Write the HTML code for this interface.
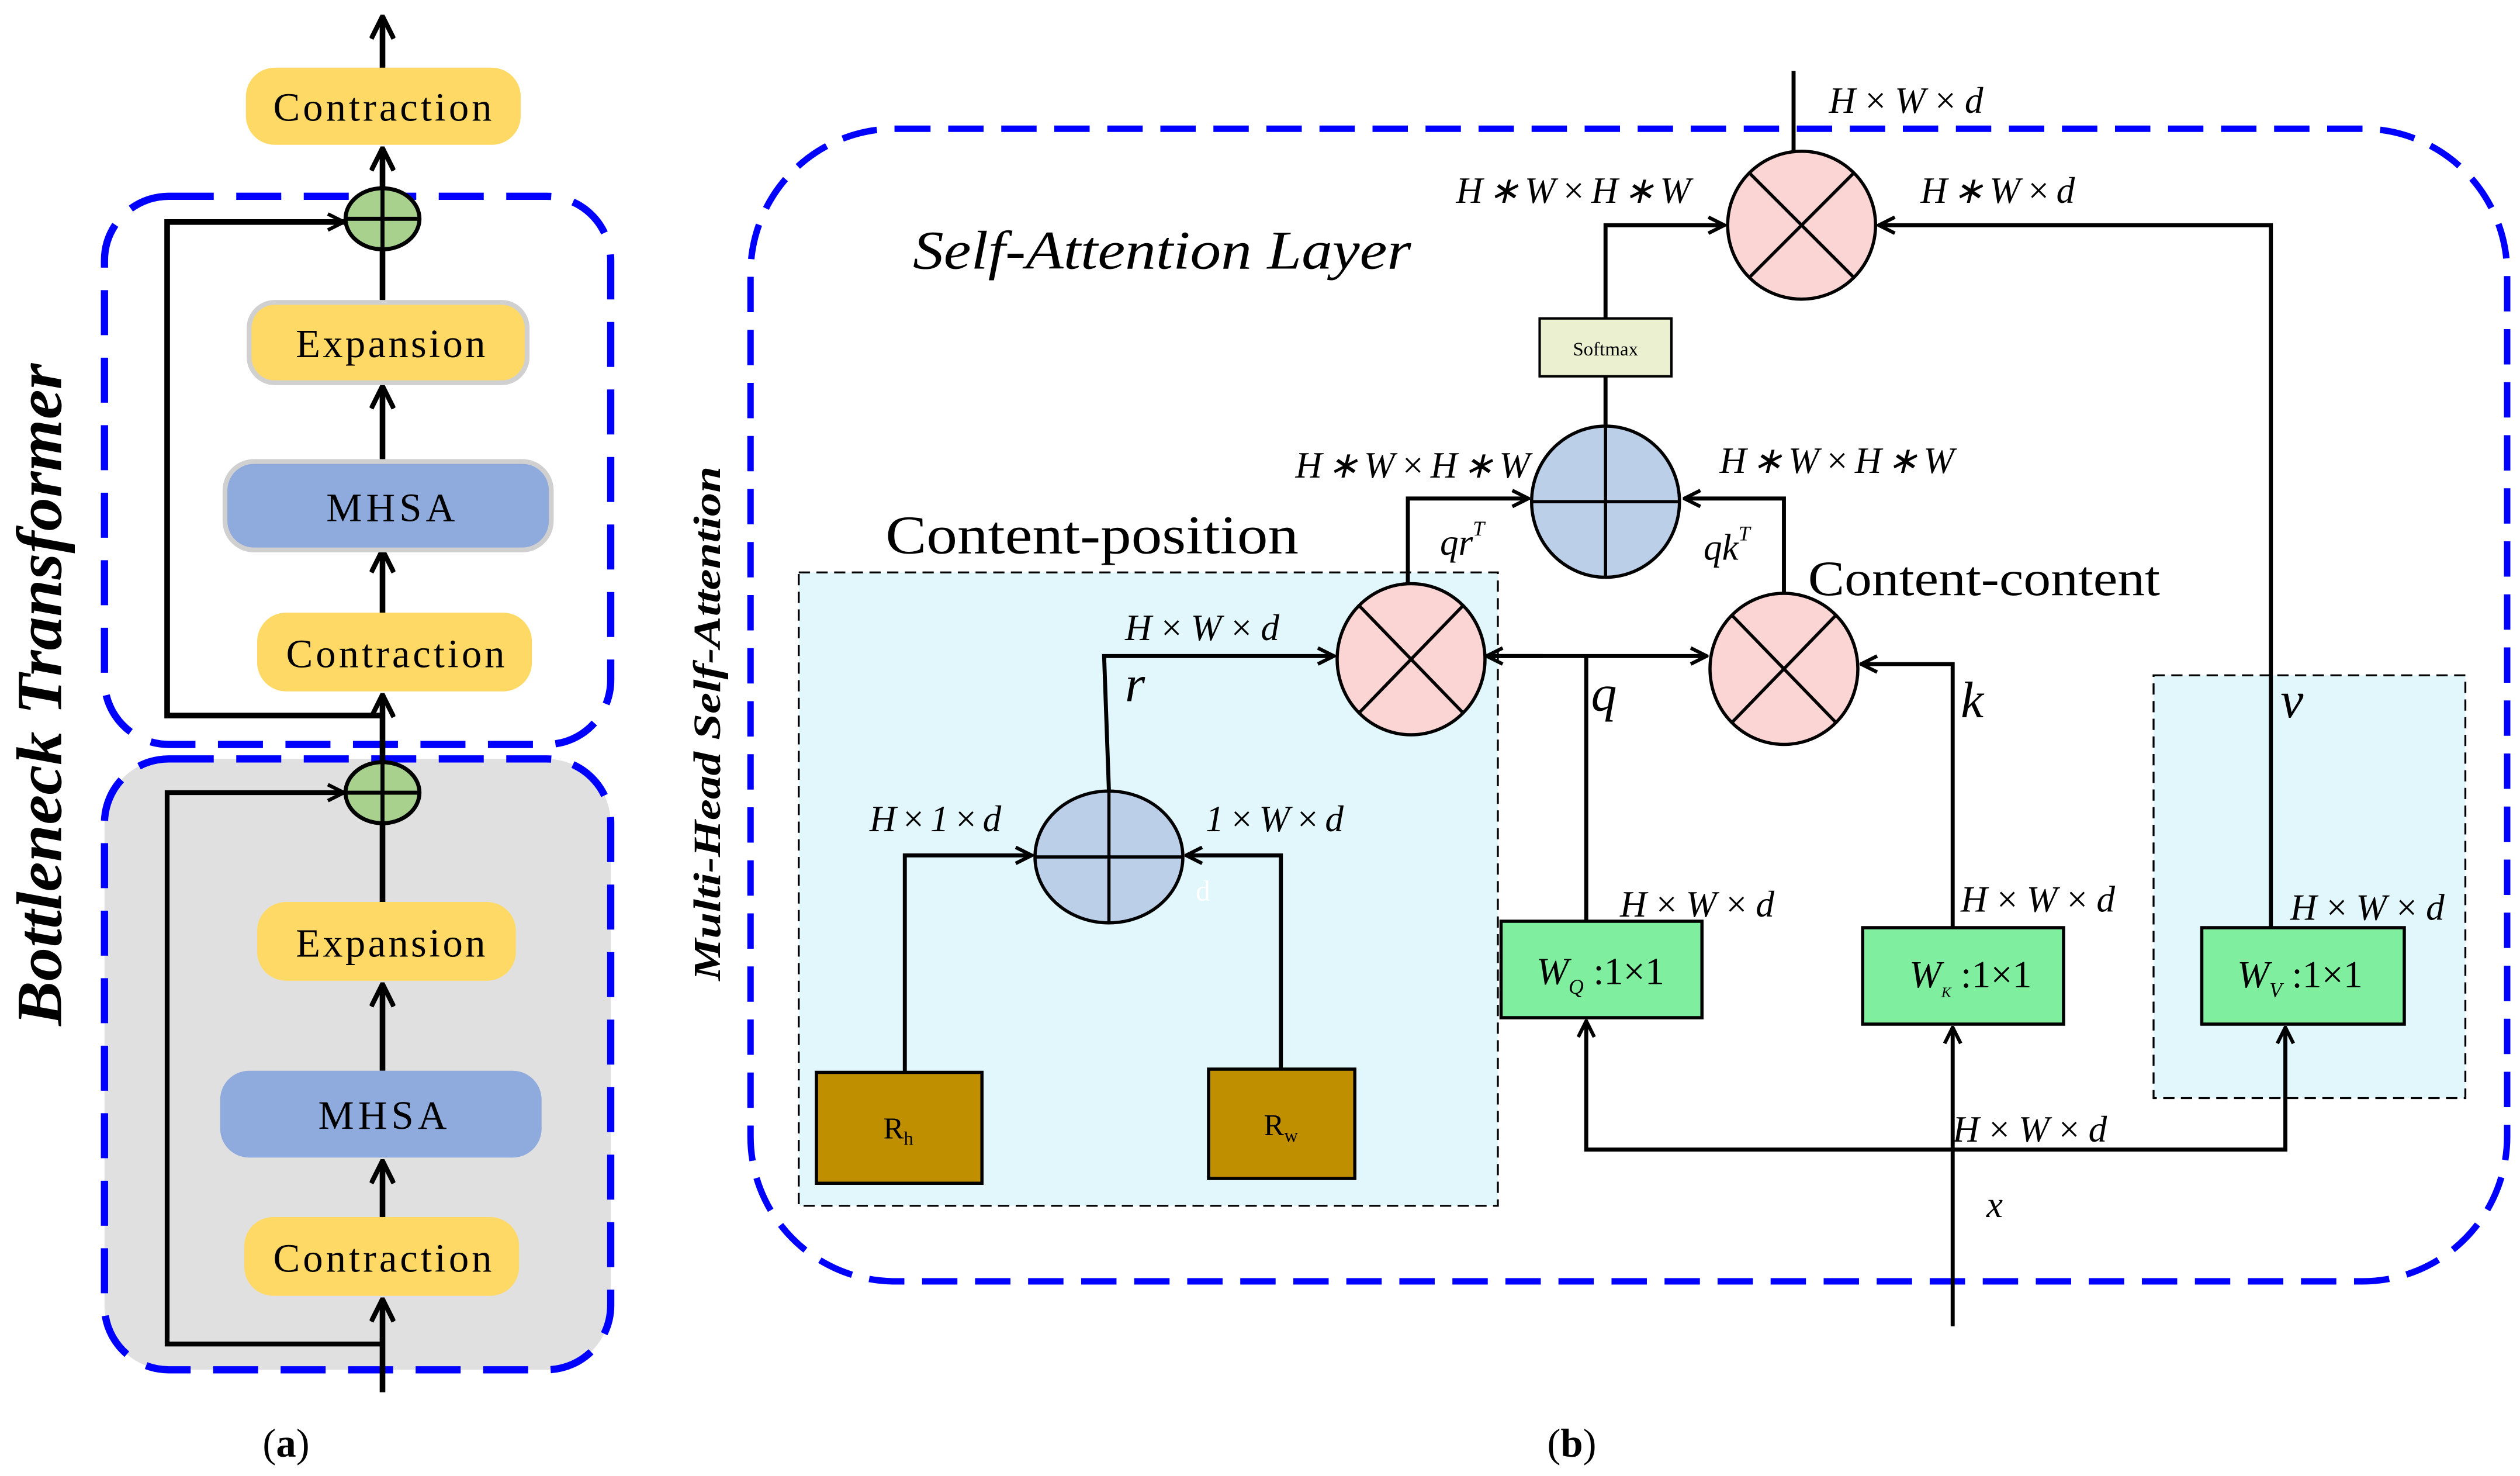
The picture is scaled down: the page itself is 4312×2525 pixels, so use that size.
<!DOCTYPE html>
<html><head><style>html,body{margin:0;padding:0;background:#fff}svg{display:block}</style></head>
<body>
<svg width="4312" height="2525" viewBox="0 0 1568 918" xmlns="http://www.w3.org/2000/svg" font-family="Liberation Serif, serif">
<defs>
<marker id="a" viewBox="0 0 12 12" refX="11" refY="6" markerWidth="12" markerHeight="12" markerUnits="userSpaceOnUse" orient="auto"><path d="M1,1 L11,6 L1,11" fill="none" stroke="#000" stroke-width="2.2"/></marker>
<marker id="b" viewBox="0 0 16 16" refX="15" refY="8" markerWidth="16" markerHeight="16" markerUnits="userSpaceOnUse" orient="auto"><path d="M1,1 L15,8 L1,15" fill="none" stroke="#000" stroke-width="3"/></marker>
</defs>
<!-- LEFT PANEL -->
<rect x="65" y="472" width="315" height="380" rx="40" fill="#E0E0E0"/>
<rect x="65" y="472" width="315" height="380" rx="40" fill="none" stroke="#0000FF" stroke-width="4.5" stroke-dasharray="28,14"/>
<rect x="65" y="122" width="315" height="341" rx="40" fill="none" stroke="#0000FF" stroke-width="4.5" stroke-dasharray="28,14"/>
<g stroke="#000" stroke-width="3.5" fill="none">
<line x1="238" y1="45" x2="238" y2="10" marker-end="url(#b)"/>
<line x1="238" y1="188" x2="238" y2="92" marker-end="url(#b)"/>
<line x1="238" y1="287" x2="238" y2="240" marker-end="url(#b)"/>
<line x1="238" y1="381" x2="238" y2="342" marker-end="url(#b)"/>
<line x1="238" y1="561" x2="238" y2="432" marker-end="url(#b)"/>
<line x1="238" y1="666" x2="238" y2="612" marker-end="url(#b)"/>
<line x1="238" y1="757" x2="238" y2="722" marker-end="url(#b)"/>
<line x1="238" y1="866" x2="238" y2="808" marker-end="url(#b)"/>
<polyline points="238,445 104,445 104,138 214,138" marker-end="url(#a)"/>
<polyline points="238,836 104,836 104,493 214,493" stroke-width="3" marker-end="url(#a)"/>
</g>
<g stroke="#000" stroke-width="2.5">
<ellipse cx="238" cy="136" rx="23" ry="19" fill="#A9D18E"/>
<line x1="215" y1="136" x2="261" y2="136"/><line x1="238" y1="117" x2="238" y2="155"/>
<ellipse cx="238" cy="493" rx="23" ry="19" fill="#A9D18E"/>
<line x1="215" y1="493" x2="261" y2="493"/><line x1="238" y1="474" x2="238" y2="512"/>
</g>
<g font-size="25" text-anchor="middle" lengthAdjust="spacingAndGlyphs">
<rect x="153" y="42" width="171" height="48" rx="18" fill="#FFD966"/><text x="238" y="75" textLength="136">Contraction</text>
<rect x="155" y="188" width="173" height="50" rx="16" fill="#FFD966" stroke="#D0D0D0" stroke-width="3"/><text x="243" y="222" textLength="118">Expansion</text>
<rect x="140" y="287" width="203" height="55" rx="18" fill="#8FAADC" stroke="#D0D0D0" stroke-width="3"/><text x="243" y="324" textLength="80">MHSA</text>
<rect x="160" y="381" width="171" height="49" rx="18" fill="#FFD966"/><text x="246" y="415" textLength="136">Contraction</text>
<rect x="160" y="561" width="161" height="49" rx="18" fill="#FFD966"/><text x="243" y="595" textLength="118">Expansion</text>
<rect x="137" y="666" width="200" height="54" rx="18" fill="#8FAADC"/><text x="238" y="702" textLength="80">MHSA</text>
<rect x="152" y="757" width="171" height="49" rx="18" fill="#FFD966"/><text x="238" y="791" textLength="136">Contraction</text>
</g>
<text x="178" y="906" font-size="25" text-anchor="middle">(<tspan font-weight="bold">a</tspan>)</text>
<text transform="translate(38,432) rotate(-90)" font-size="40" font-weight="bold" font-style="italic" text-anchor="middle" textLength="412" lengthAdjust="spacingAndGlyphs">Bottleneck Transformer</text>
<text transform="translate(448,450) rotate(-90)" font-size="24" font-weight="bold" font-style="italic" text-anchor="middle" textLength="320" lengthAdjust="spacingAndGlyphs">Multi-Head Self-Attention</text>
<!-- RIGHT PANEL -->
<rect x="467" y="80" width="1093" height="717" rx="90" fill="none" stroke="#0000FF" stroke-width="4" stroke-dasharray="22,11"/>
<rect x="497" y="356" width="435" height="394" fill="#E2F7FC" stroke="#000" stroke-width="1.2" stroke-dasharray="7,4"/>
<rect x="1340" y="420" width="194" height="263" fill="#E2F7FC" stroke="#000" stroke-width="1.2" stroke-dasharray="7,4"/>
<text x="568" y="167" font-size="34" font-style="italic" textLength="310" lengthAdjust="spacingAndGlyphs">Self-Attention Layer</text>
<text x="551" y="344" font-size="34" textLength="257" lengthAdjust="spacingAndGlyphs">Content-position</text>
<text x="1125" y="370" font-size="31" textLength="219" lengthAdjust="spacingAndGlyphs">Content-content</text>
<g stroke="#000" stroke-width="2.5" fill="none">
<line x1="1116" y1="95" x2="1116" y2="44"/>
<polyline points="999,198 999,140 1073,140" marker-end="url(#a)"/>
<polyline points="1413,577 1413,140 1169,140" marker-end="url(#a)"/>
<line x1="999" y1="234" x2="999" y2="266"/>
<polyline points="876,364 876,310 951,310" marker-end="url(#a)"/>
<polyline points="1110,371 1110,310 1048,310" marker-end="url(#a)"/>
<line x1="925" y1="408" x2="1062" y2="408" marker-end="url(#a)"/>
<line x1="960" y1="408" x2="925" y2="408" marker-end="url(#a)"/>
<line x1="987" y1="408" x2="987" y2="573"/>
<polyline points="1215,577 1215,413 1158,413" marker-end="url(#a)"/>
<polyline points="690,492 687,408 830,408" marker-end="url(#a)"/>
<polyline points="563,667 563,532 642,532" marker-end="url(#a)"/>
<polyline points="797,665 797,532 738,532" marker-end="url(#a)"/>
<line x1="1215" y1="825" x2="1215" y2="639" marker-end="url(#a)"/>
<polyline points="1215,715 987,715 987,635" marker-end="url(#a)"/>
<polyline points="1215,715 1422,715 1422,639" marker-end="url(#a)"/>
</g>
<g stroke="#000" stroke-width="2">
<ellipse cx="1121" cy="140" rx="46" ry="46" fill="#FBD4D4"/>
<line x1="1089" y1="108" x2="1153" y2="172"/><line x1="1153" y1="108" x2="1089" y2="172"/>
<ellipse cx="999" cy="312" rx="46" ry="47" fill="#BCCFE8"/>
<line x1="953" y1="312" x2="1045" y2="312"/><line x1="999" y1="265" x2="999" y2="359"/>
<ellipse cx="878" cy="410" rx="46" ry="47" fill="#FBD4D4"/>
<line x1="846" y1="377" x2="910" y2="443"/><line x1="910" y1="377" x2="846" y2="443"/>
<ellipse cx="1110" cy="416" rx="46" ry="47" fill="#FBD4D4"/>
<line x1="1078" y1="383" x2="1142" y2="449"/><line x1="1142" y1="383" x2="1078" y2="449"/>
<ellipse cx="690" cy="533" rx="46" ry="41" fill="#BCCFE8"/>
<line x1="644" y1="533" x2="736" y2="533"/><line x1="690" y1="492" x2="690" y2="574"/>
</g>
<rect x="958" y="198" width="82" height="36" fill="#EBF1D0" stroke="#000" stroke-width="1.5"/>
<text x="999" y="221" font-size="12" text-anchor="middle">Softmax</text>
<rect x="508" y="667" width="103" height="69" fill="#BF8F00" stroke="#000" stroke-width="2"/>
<text x="559" y="708" font-size="19" text-anchor="middle">R<tspan font-size="12" dy="4">h</tspan></text>
<rect x="752" y="665" width="91" height="68" fill="#BF8F00" stroke="#000" stroke-width="2"/>
<text x="797" y="706" font-size="19" text-anchor="middle">R<tspan font-size="12" dy="4">w</tspan></text>
<g fill="#7FEE9F" stroke="#000" stroke-width="2">
<rect x="934" y="573" width="125" height="60"/><rect x="1159" y="577" width="125" height="60"/><rect x="1370" y="577" width="126" height="60"/>
</g>
<g font-size="24">
<text x="956" y="612"><tspan font-style="italic">W</tspan><tspan font-size="13" font-style="italic" dy="6">Q</tspan><tspan dy="-6"> :1×1</tspan></text>
<text x="1188" y="614"><tspan font-style="italic">W</tspan><tspan font-size="9" font-style="italic" dy="6">K</tspan><tspan dy="-6"> :1×1</tspan></text>
<text x="1392" y="614"><tspan font-style="italic">W</tspan><tspan font-size="13" font-style="italic" dy="6">V</tspan><tspan dy="-6"> :1×1</tspan></text>
</g>
<g font-size="23" font-style="italic" lengthAdjust="spacingAndGlyphs">
<text x="1138" y="70" textLength="96">H×W×d</text>
<text x="906" y="126" textLength="146">H∗W×H∗W</text>
<text x="1195" y="126" textLength="96">H∗W×d</text>
<text x="806" y="297" textLength="146">H∗W×H∗W</text>
<text x="1070" y="294" textLength="146">H∗W×H∗W</text>
<text x="896" y="345">qr<tspan font-size="13" dy="-12">T</tspan></text>
<text x="1060" y="348">qk<tspan font-size="13" dy="-12">T</tspan></text>
<text x="700" y="398" textLength="96">H×W×d</text>
<text x="541" y="517" textLength="82">H×1×d</text>
<text x="750" y="517" textLength="86">1×W×d</text>
<text x="1008" y="570" textLength="96">H×W×d</text>
<text x="1220" y="567" textLength="96">H×W×d</text>
<text x="1425" y="572" textLength="96">H×W×d</text>
<text x="1215" y="710" textLength="96">H×W×d</text>
<text x="1236" y="757">x</text>
</g>
<text x="744" y="560" font-size="18" fill="#fff">d</text>
<g font-size="32" font-style="italic">
<text x="700" y="436">r</text><text x="990" y="442">q</text><text x="1220" y="446">k</text><text x="1419" y="446">v</text>
</g>
<text x="978" y="906" font-size="25" text-anchor="middle">(<tspan font-weight="bold">b</tspan>)</text>
</svg>
</body></html>
